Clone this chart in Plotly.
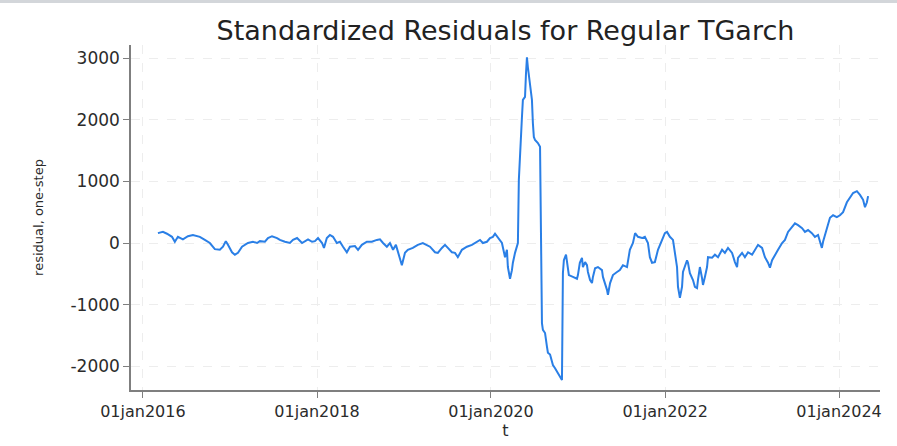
import plotly.graph_objects as go

# Standardized one-step residuals from the TGARCH fit
dates = [
    "2016-03-04", "2016-03-25", "2016-04-11", "2016-05-02", "2016-05-14", "2016-05-27",
    "2016-06-17", "2016-07-08", "2016-07-29", "2016-08-27", "2016-09-17", "2016-10-08",
    "2016-10-29", "2016-11-19", "2016-12-02", "2016-12-14", "2016-12-23", "2017-01-09",
    "2017-01-21", "2017-02-03", "2017-02-20", "2017-03-04", "2017-03-17", "2017-04-07",
    "2017-04-24", "2017-05-06", "2017-05-27", "2017-06-09", "2017-06-26", "2017-07-17",
    "2017-07-29", "2017-08-19", "2017-09-09", "2017-09-22", "2017-10-09", "2017-10-30",
    "2017-11-11", "2017-11-24", "2017-12-11", "2017-12-23", "2018-01-05", "2018-01-22",
    "2018-01-30", "2018-02-11", "2018-02-24", "2018-03-09", "2018-03-25", "2018-04-07",
    "2018-04-20", "2018-05-06", "2018-05-19", "2018-06-09", "2018-06-22", "2018-07-08",
    "2018-07-29", "2018-08-19", "2018-09-09", "2018-09-22", "2018-10-05", "2018-10-21",
    "2018-11-03", "2018-11-16", "2018-11-28", "2018-12-07", "2018-12-23", "2019-01-05",
    "2019-01-17", "2019-02-07", "2019-02-28", "2019-03-21", "2019-04-07", "2019-04-20",
    "2019-05-11", "2019-05-23", "2019-06-09", "2019-06-22", "2019-07-04", "2019-07-21",
    "2019-08-03", "2019-08-15", "2019-09-01", "2019-09-22", "2019-10-13", "2019-11-03",
    "2019-11-16", "2019-11-28", "2019-12-15", "2019-12-28", "2020-01-09", "2020-01-18",
    "2020-01-30", "2020-02-16", "2020-02-29", "2020-03-08", "2020-03-12", "2020-03-21",
    "2020-03-29", "2020-04-02", "2020-04-11", "2020-04-19", "2020-04-23", "2020-04-27",
    "2020-05-06", "2020-05-10", "2020-05-14", "2020-05-23", "2020-05-27", "2020-05-31",
    "2020-06-04", "2020-06-13", "2020-06-21", "2020-06-25", "2020-06-29", "2020-07-04",
    "2020-07-16", "2020-07-25", "2020-07-29", "2020-08-02", "2020-08-06", "2020-08-15",
    "2020-08-23", "2020-08-27", "2020-09-05", "2020-09-13", "2020-09-17", "2020-09-26",
    "2020-10-08", "2020-10-17", "2020-10-25", "2020-10-29", "2020-11-02", "2020-11-11",
    "2020-11-15", "2020-11-23", "2020-12-10", "2020-12-27", "2020-12-31", "2021-01-08",
    "2021-01-17", "2021-01-21", "2021-01-30", "2021-02-07", "2021-02-11", "2021-02-20",
    "2021-02-28", "2021-03-04", "2021-03-13", "2021-03-25", "2021-04-11", "2021-04-15",
    "2021-05-02", "2021-05-06", "2021-05-15", "2021-05-27", "2021-06-13", "2021-06-25",
    "2021-07-08", "2021-07-25", "2021-08-06", "2021-08-19", "2021-08-28", "2021-09-09",
    "2021-09-26", "2021-10-08", "2021-10-21", "2021-10-29", "2021-11-07", "2021-11-19",
    "2021-12-02", "2021-12-19", "2021-12-31", "2022-01-09", "2022-01-21", "2022-02-03",
    "2022-02-11", "2022-02-20", "2022-02-24", "2022-03-04", "2022-03-13", "2022-03-17",
    "2022-04-03", "2022-04-07", "2022-04-15", "2022-04-28", "2022-05-06", "2022-05-15",
    "2022-05-19", "2022-05-27", "2022-06-05", "2022-06-09", "2022-06-17", "2022-06-26",
    "2022-06-30", "2022-07-17", "2022-07-29", "2022-08-11", "2022-08-28", "2022-09-09",
    "2022-09-22", "2022-10-09", "2022-10-21", "2022-10-30", "2022-11-03", "2022-11-20",
    "2022-12-02", "2022-12-15", "2023-01-01", "2023-01-13", "2023-01-26", "2023-02-12",
    "2023-02-24", "2023-03-09", "2023-03-17", "2023-03-26", "2023-04-07", "2023-04-20",
    "2023-05-07", "2023-05-19", "2023-06-01", "2023-06-17", "2023-06-30", "2023-07-13",
    "2023-07-30", "2023-08-11", "2023-08-24", "2023-09-09", "2023-09-22", "2023-10-05",
    "2023-10-21", "2023-10-26", "2023-11-11", "2023-11-24", "2023-12-07", "2023-12-23",
    "2024-01-05", "2024-01-18", "2024-02-03", "2024-02-16", "2024-02-29", "2024-03-16",
    "2024-03-29", "2024-04-11", "2024-04-19", "2024-04-27", "2024-05-02",
]

residuals = [
    160, 180, 150, 100, 20, 100,
    60, 110, 130, 100, 50, 0,
    -100, -110, -60, 30, -30, -150,
    -190, -160, -60, -30, 0, 20,
    0, 30, 20, 80, 110, 80,
    50, 20, 0, 50, 80, 0,
    30, 60, 20, 30, 80, 0,
    -80, 80, 130, 100, 0, 20,
    -60, -150, -60, -50, -110, -30,
    20, 20, 50, 60, 0, -60,
    0, -110, -30, -160, -360, -160,
    -110, -80, -30, 0, -30, -60,
    -150, -160, -80, -30, -80, -150,
    -160, -230, -110, -60, -30, 20,
    50, 0, 20, 80, 100, 150,
    80, 0, -230, -110, -390, -580,
    -440, -320, -160, -60, 0, 1020,
    1880, 2040, 2320, 2370, 2750, 3010,
    2850, 2590, 2320, 1940, 1720, 1670,
    1620, 1560, -60, -1300, -1410, -1460,
    -1680, -1780, -1810, -1900, -1980, -2030,
    -2110, -2170, -2220, -490, -280, -190,
    -310, -520, -550, -580, -520, -320,
    -240, -390, -310, -360, -470, -600,
    -650, -550, -410, -390, -440, -550,
    -760, -840, -650, -520, -470, -440,
    -360, -390, -110, 0, 160, 100,
    80, 100, 0, -230, -320, -310,
    -110, 50, 160, 180, 100, 50,
    -160, -390, -710, -890, -710, -470,
    -280, -320, -490, -600, -710, -730,
    -600, -390, -570, -680, -550, -390,
    -230, -240, -190, -230, -110, -160,
    -80, -160, -310, -390, -240, -160,
    -230, -150, -190, -110, -30, -80,
    -230, -320, -400, -280, -190, -110,
    0, 50, 180, 260, 320, 290,
    240, 180, 210, 160, 100, 130,
    -80, 20, 260, 410, 450, 420,
    450, 500, 660, 730, 810, 840,
    780, 700, 580, 660, 760,
]

x_tick_vals = ["2016-01-01", "2018-01-01", "2020-01-01", "2022-01-01", "2024-01-01"]
x_tick_text = ["01jan2016", "01jan2018", "01jan2020", "01jan2022", "01jan2024"]
y_tick_vals = [-2000, -1000, 0, 1000, 2000, 3000]
y_tick_text = ["-2000", "-1000", "0", "1000", "2000", "3000"]

W, H = 897, 446
M_L, M_R, M_T, M_B = 131, 17, 45, 56
FONT = "DejaVu Sans"
TEXT = "#2b2b2b"
AXIS = "#7f7f7f"
GRID = "#ededed"

fig = go.Figure(
    go.Scatter(
        x=dates,
        y=residuals,
        mode="lines",
        line=dict(color="#2a7fe6", width=2),
        hoverinfo="x+y",
    )
)

# thin grey band along the top edge of the page
plot_w = W - M_L - M_R
plot_h = H - M_T - M_B
fig.add_shape(
    type="rect", xref="paper", yref="paper",
    x0=-M_L / plot_w, x1=1 + M_R / plot_w,
    y0=1 + (M_T - 3) / plot_h, y1=1 + M_T / plot_h,
    line=dict(width=0), fillcolor="#d3d6da", layer="above",
)

fig.update_layout(
    width=W,
    height=H,
    margin=dict(l=M_L, r=M_R, t=M_T, b=M_B, pad=0),
    paper_bgcolor="white",
    plot_bgcolor="white",
    showlegend=False,
    font=dict(family=FONT, color=TEXT),
    title=dict(
        text="Standardized Residuals for Regular TGarch",
        font=dict(family=FONT, size=27, color="#222222"),
        x=(M_L + plot_w / 2) / W,
        xanchor="center",
        y=1 - 31 / H,
        yanchor="middle",
    ),
    xaxis=dict(
        type="date",
        range=["2015-11-12", "2024-06-21"],
        tickvals=x_tick_vals,
        ticktext=x_tick_text,
        tickfont=dict(family=FONT, size=16, color=TEXT),
        ticks="outside",
        ticklen=6,
        tickcolor=AXIS,
        showline=True,
        linecolor=AXIS,
        linewidth=1.5,
        showgrid=True,
        gridcolor=GRID,
        griddash="dash",
        gridwidth=1,
        zeroline=False,
        title=dict(text="t", font=dict(family=FONT, size=16, color=TEXT), standoff=2),
    ),
    yaxis=dict(
        range=[-2384, 3211],
        tickvals=y_tick_vals,
        ticktext=y_tick_text,
        tickfont=dict(family=FONT, size=17, color=TEXT),
        ticks="outside",
        ticklen=6,
        tickcolor=AXIS,
        showline=True,
        linecolor=AXIS,
        linewidth=1.5,
        showgrid=True,
        gridcolor=GRID,
        griddash="dash",
        gridwidth=1,
        zeroline=False,
        title=dict(text="residual, one-step", font=dict(family=FONT, size=13, color=TEXT), standoff=24),
    ),
)

fig.write_html("out.html")
